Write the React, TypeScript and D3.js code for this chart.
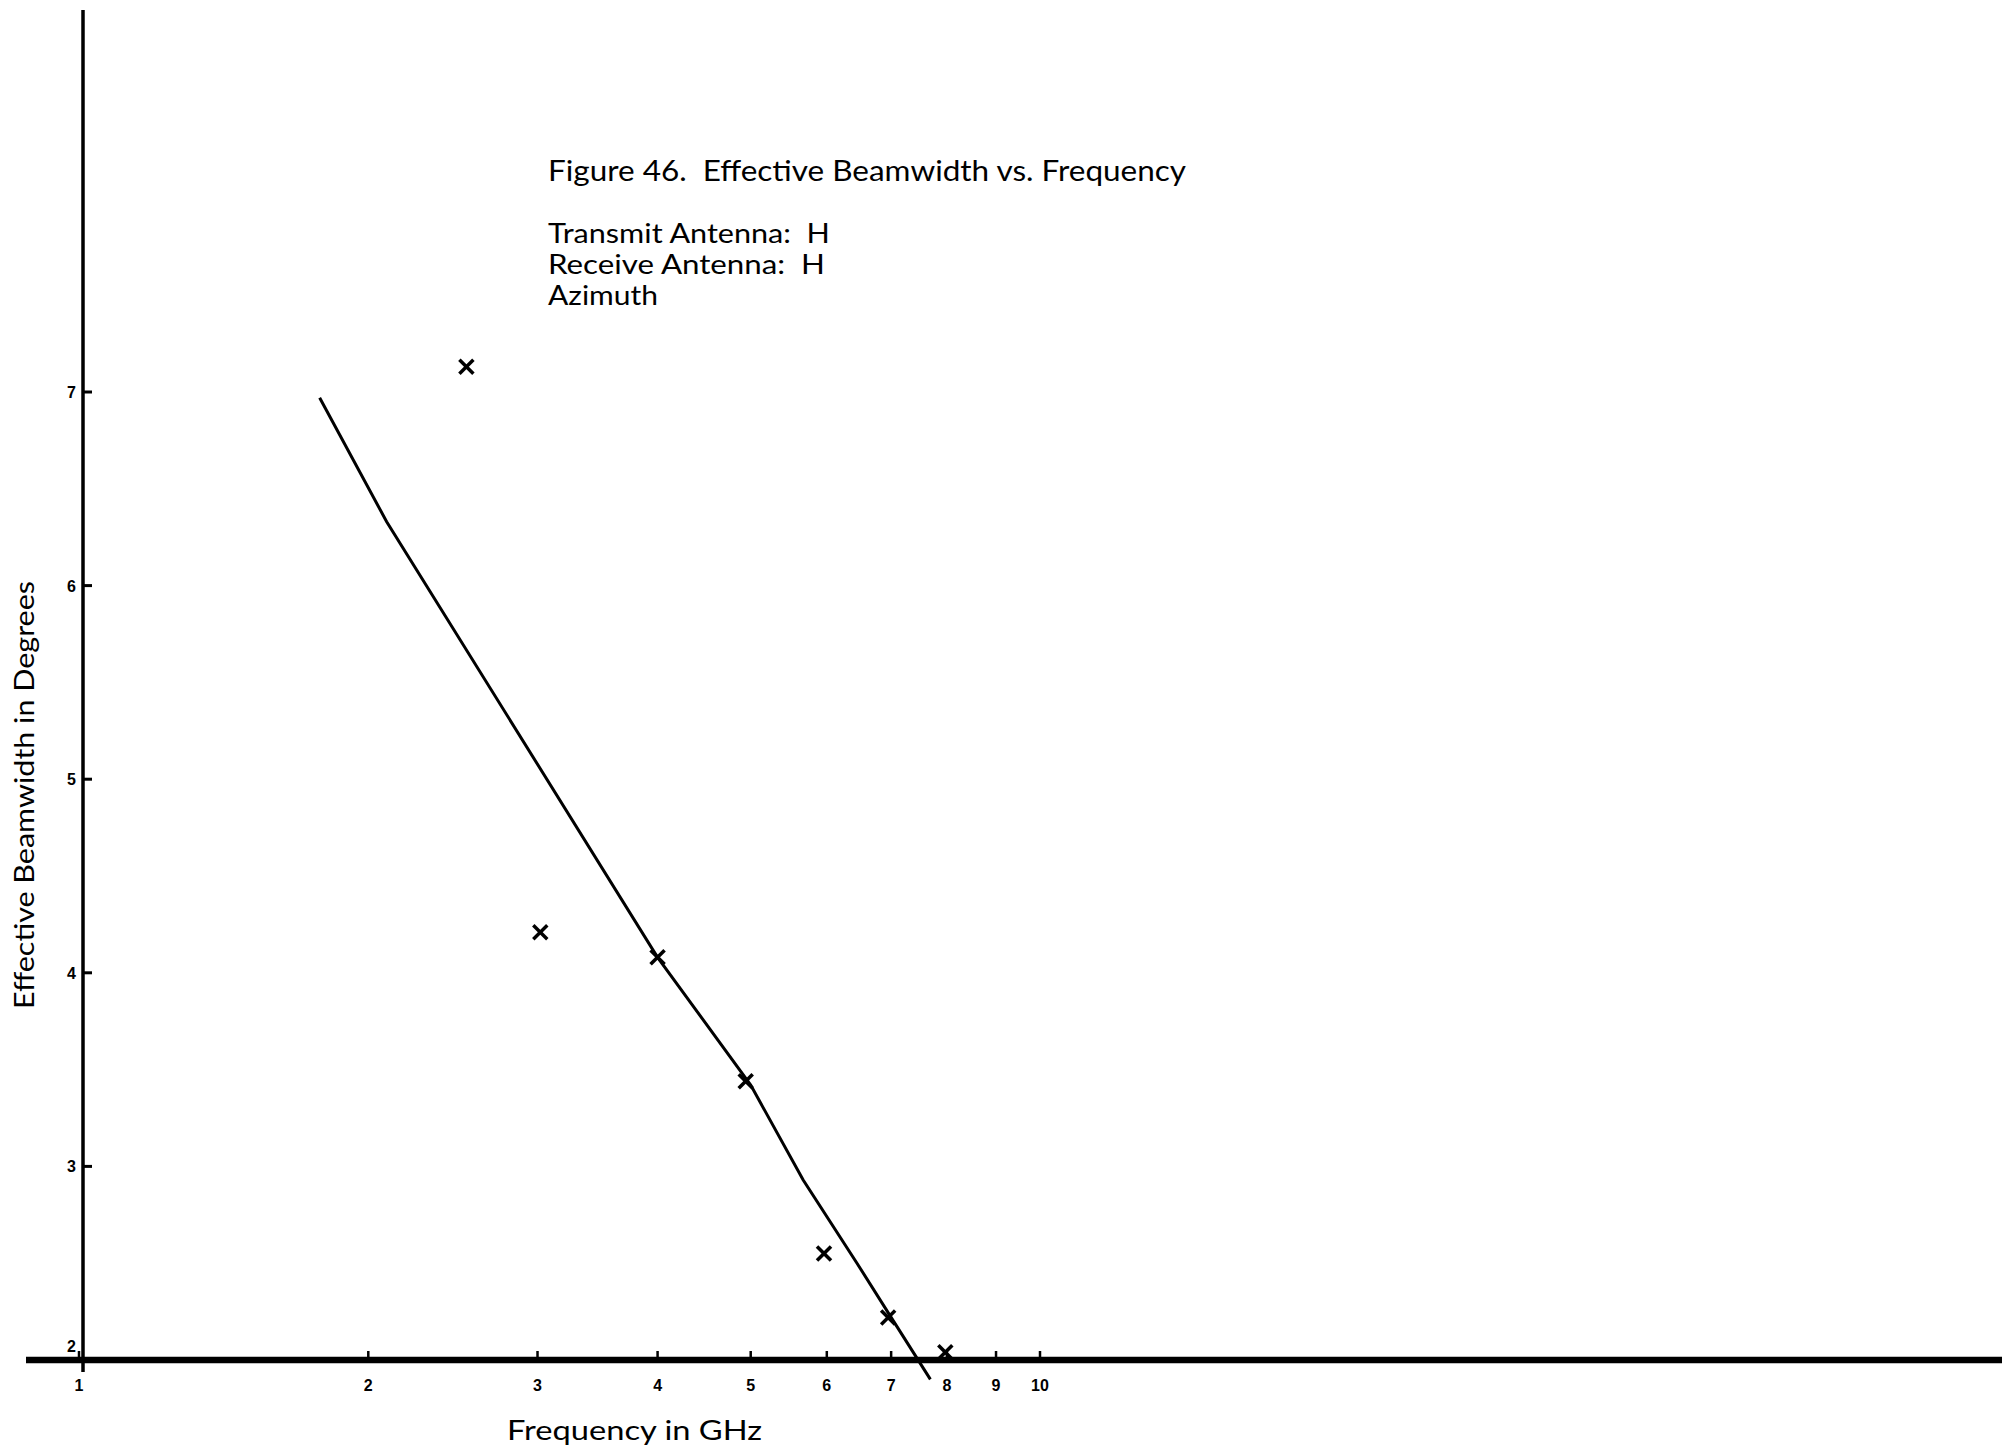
import React from "react";
import * as d3 from "d3";

// Measured points (Frequency GHz, Effective beamwidth deg)
const freqs = [2.53, 3.02, 4.0, 4.94, 5.96, 6.95, 7.97];
const beamwidths = [7.13, 4.21, 4.08, 3.44, 2.55, 2.22, 2.04];

// Hand-drawn fitted line
const lineFreqs = [1.78, 2.09, 4.0, 5.0, 5.67, 6.45, 7.0, 7.69];
const lineBeam = [6.97, 6.33, 4.08, 3.42, 2.93, 2.5, 2.22, 1.9];

const xTicks = [1, 2, 3, 4, 5, 6, 7, 8, 9, 10];
const xTickLabels = ["1", "2", "3", "4", "5", "6", "7", "8", "9", "10"];
const yTicks = [2, 3, 4, 5, 6, 7];
const yTickLabels = ["2", "3", "4", "5", "6", "7"];

const title = "Figure 46.  Effective Beamwidth vs. Frequency";
const infoLines = ["Transmit Antenna:  H", "Receive Antenna:  H", "Azimuth"];
const xLabel = "Frequency in GHz";
const yLabel = "Effective Beamwidth in Degrees";

const W = 2002;
const H = 1451;

export default function App() {
  const x = d3.scaleLog().domain([1, 10]).range([79, 1040]);
  const y = d3.scaleLinear().domain([2, 7]).range([1360, 392]);

  const lineGen = d3
    .line<number>()
    .x((_, i) => x(lineFreqs[i]))
    .y((d) => y(d));

  const font = "Lato, 'Open Sans', sans-serif";
  const tickFont = "'Liberation Sans Narrow', 'Liberation Sans', sans-serif";
  const axisY = y(2);
  const axisX = 83;

  return (
    <svg
      width={W}
      height={H}
      style={{ position: "absolute", left: 0, top: 0, background: "#fff" }}
    >
      <rect x={0} y={0} width={W} height={H} fill="#fff" />
      {/* y axis */}
      <line x1={axisX} y1={10} x2={axisX} y2={axisY + 12} stroke="#000" strokeWidth={3.5} />
      {/* x axis */}
      <line x1={26} y1={axisY} x2={W} y2={axisY} stroke="#000" strokeWidth={6.5} />
      {/* x ticks */}
      {xTicks.map((t, i) => (
        <g key={"xt" + i}>
          <line x1={x(t)} y1={axisY} x2={x(t)} y2={axisY - 9} stroke="#000" strokeWidth={2.5} />
          <text
            x={x(t)}
            y={axisY + 31}
            fontFamily={tickFont}
            fontWeight="bold"
            fontSize={16}
            textAnchor="middle"
          >
            {xTickLabels[i]}
          </text>
        </g>
      ))}
      {/* y ticks */}
      {yTicks.map((t, i) => (
        <g key={"yt" + i}>
          <line x1={axisX} y1={y(t)} x2={axisX + 9} y2={y(t)} stroke="#000" strokeWidth={3} />
          <text
            x={axisX - 7}
            y={y(t) + (t === 2 ? -8 : 6)}
            fontFamily={tickFont}
            fontWeight="bold"
            fontSize={16}
            textAnchor="end"
          >
            {yTickLabels[i]}
          </text>
        </g>
      ))}
      {/* fitted line */}
      <path d={lineGen(lineBeam) || ""} fill="none" stroke="#000" strokeWidth={3} />
      {/* markers */}
      {freqs.map((f, i) => {
        const cx = x(f);
        const cy = y(beamwidths[i]);
        const s = 7;
        return (
          <g key={"m" + i} stroke="#000" strokeWidth={3.5}>
            <line x1={cx - s} y1={cy - s} x2={cx + s} y2={cy + s} />
            <line x1={cx - s} y1={cy + s} x2={cx + s} y2={cy - s} />
          </g>
        );
      })}
      {/* title & info */}
      <text
        x={548}
        y={181}
        fontFamily={font}
        fontSize={28}
        textLength={638}
        lengthAdjust="spacingAndGlyphs"
        style={{ whiteSpace: "pre" }}
      >
        {title}
      </text>
      {infoLines.map((l, i) => (
        <text
          key={"il" + i}
          x={548}
          y={243 + i * 31}
          fontFamily={font}
          fontSize={27}
          textLength={[282, 277, 110][i]}
          lengthAdjust="spacingAndGlyphs"
          style={{ whiteSpace: "pre" }}
        >
          {l}
        </text>
      ))}
      {/* axis labels */}
      <text x={507} y={1440} fontFamily={font} fontSize={27} textLength={255} lengthAdjust="spacingAndGlyphs">
        {xLabel}
      </text>
      <text
        transform={`translate(34, 795) rotate(-90)`}
        fontFamily={font}
        fontSize={27}
        textAnchor="middle"
        textLength={428}
        lengthAdjust="spacingAndGlyphs"
      >
        {yLabel}
      </text>
    </svg>
  );
}
